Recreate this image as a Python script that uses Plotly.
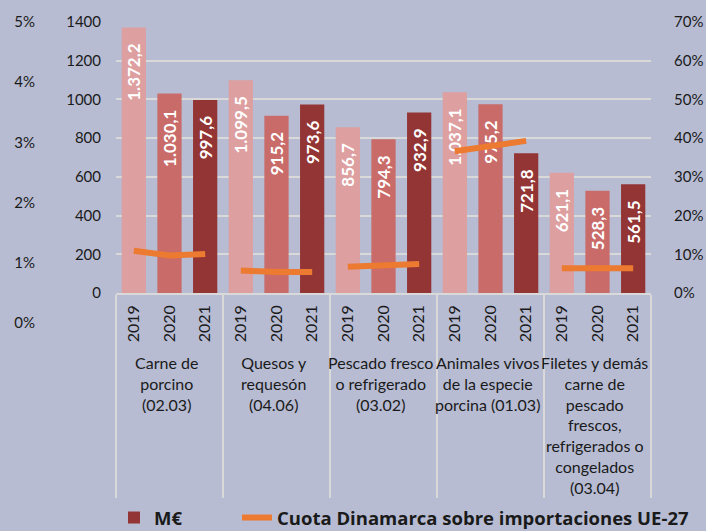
import plotly.graph_objects as go

categories = [
    "Carne de<br>porcino<br>(02.03)",
    "Quesos y<br>requesón<br>(04.06)",
    "Pescado fresco<br>o refrigerado<br>(03.02)",
    "Animales vivos<br>de la especie<br>porcina (01.03)",
    "Filetes y demás<br>carne de<br>pescado<br>frescos,<br>refrigerados o<br>congelados<br>(03.04)",
]
years = ["2019", "2020", "2021"]
values_2019 = [1372.2, 1099.5, 856.7, 1037.1, 621.1]
values_2020 = [1030.1, 915.2, 794.3, 975.2, 528.3]
values_2021 = [997.6, 973.6, 932.9, 721.8, 561.5]
share = [  # % Denmark share, per category, 2019-2021
    [10.9, 9.7, 10.1],
    [5.8, 5.4, 5.4],
    [6.8, 7.2, 7.5],
    [36.6, 37.9, 39.3],
    [6.4, 6.4, 6.4],
]
value_ticks = [0, 200, 400, 600, 800, 1000, 1200, 1400]
left_pct_ticks = [0, 1, 2, 3, 4, 5]
left_pct_labels = ["0%", "1%", "2%", "3%", "4%", "5%"]
right_pct_ticks = [0, 10, 20, 30, 40, 50, 60, 70]
right_pct_labels = ["0%", "10%", "20%", "30%", "40%", "50%", "60%", "70%"]

bar_colors = {"2019": "#dd9f9f", "2020": "#c96b69", "2021": "#943535"}
orange = "#ec7a30"
bg = "#b7bcd3"
font_family = "Lato, 'Open Sans', sans-serif"
NB = "\u00a0"

fig = go.Figure()
for yr, vals in zip(years, [values_2019, values_2020, values_2021]):
    fig.add_trace(go.Bar(
        x=[categories, [yr] * len(categories)],
        y=vals,
        name="<b>M€</b>",
        showlegend=(yr == "2021"),
        legend="legend",
        marker=dict(color=bar_colors[yr], line=dict(width=0)),
        width=0.68,
        texttemplate="<b>%{y:,.1f}</b>" + NB * 3,
        textposition="inside",
        insidetextanchor="end",
        textangle=-90,
        constraintext="none",
        textfont=dict(color="white", size=17, family=font_family),
        hoverinfo="skip",
    ))

for i, cat in enumerate(categories):
    fig.add_trace(go.Scatter(
        x=[[cat] * 3, years],
        y=share[i],
        yaxis="y2",
        mode="lines",
        line=dict(color=orange, width=6),
        name="<b>Cuota Dinamarca sobre importaciones UE-27</b>",
        legendgroup="cuota",
        legend="legend2",
        showlegend=(i == 0),
        hoverinfo="skip",
    ))

# invisible helper so the outer percent axis (own subplot) gets drawn
fig.add_trace(go.Scatter(
    x=[0], y=[None], xaxis="x2", yaxis="y3", mode="markers",
    showlegend=False, hoverinfo="skip",
))

W, H = 706, 531
ml, mr, mt, mb = 40, 55, 22, 0
plot_h = H - mt - mb
plot_w = W - ml - mr
x0 = (116 - ml) / plot_w
y_main_bottom = (H - 293 - mb) / plot_h
y_outer_bottom = (H - 323 - mb) / plot_h
legend_y = (H - 518 - mb) / plot_h
legend_font = dict(size=18.5, family="'Open Sans', sans-serif")

fig.update_layout(
    width=W, height=H,
    margin=dict(l=ml, r=mr, t=mt, b=mb, autoexpand=False),
    paper_bgcolor=bg, plot_bgcolor=bg,
    font=dict(family=font_family, color="#1a1a1a", size=15),
    separators=",.",
    barmode="overlay",
    bargap=0.3,
    xaxis=dict(
        type="multicategory",
        domain=[x0, 1],
        tickangle=-90,
        tickfont=dict(size=16),
        showline=True, linecolor="#d9d9d9", linewidth=1.5,
        showdividers=True, dividercolor="#d9d9d9", dividerwidth=1.5,
        ticks="", showgrid=False, ticklabelstandoff=4,
    ),
    yaxis=dict(
        domain=[y_main_bottom, 1],
        range=[0, 1400],
        tickvals=value_ticks,
        showgrid=True, gridcolor="#d9d9d9", gridwidth=1.5,
        zeroline=False, ticks="", ticklabelstandoff=14,
        tickfont=dict(size=15),
    ),
    yaxis2=dict(
        domain=[y_main_bottom, 1],
        overlaying="y", side="right",
        range=[0, 70],
        tickvals=right_pct_ticks, ticktext=right_pct_labels,
        showgrid=False, zeroline=False, ticks="", ticklabelstandoff=22,
        tickfont=dict(size=15),
    ),
    xaxis2=dict(
        domain=[0, 0.05], anchor="y3", visible=False, range=[-1, 1],
    ),
    yaxis3=dict(
        domain=[y_outer_bottom, 1],
        anchor="x2", side="left",
        range=[0, 5],
        tickvals=left_pct_ticks, ticktext=left_pct_labels,
        showgrid=False, zeroline=False, showline=False, ticks="",
        ticklabelstandoff=4,
        tickfont=dict(size=15),
    ),
    legend=dict(
        orientation="h",
        x=(114 - ml) / plot_w, xanchor="left",
        y=legend_y, yanchor="middle",
        font=legend_font, bgcolor="rgba(0,0,0,0)",
    ),
    legend2=dict(
        orientation="h",
        x=(237 - ml) / plot_w, xanchor="left",
        y=legend_y, yanchor="middle",
        font=legend_font, bgcolor="rgba(0,0,0,0)",
    ),
)

fig.write_html("out.html", config={"displayModeBar": False},
               post_script="document.body.style.margin='0';")
